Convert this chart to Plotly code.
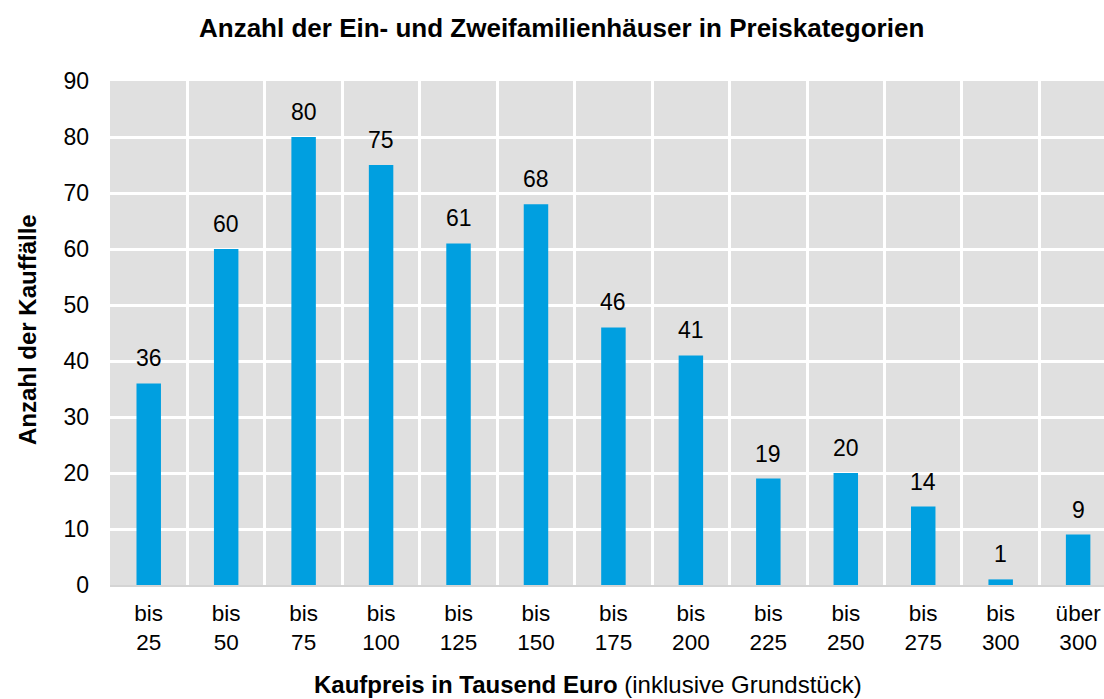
import plotly.graph_objects as go

categories = ["bis<br>25", "bis<br>50", "bis<br>75", "bis<br>100", "bis<br>125", "bis<br>150",
              "bis<br>175", "bis<br>200", "bis<br>225", "bis<br>250", "bis<br>275", "bis<br>300",
              "über<br>300"]
values = [36, 60, 80, 75, 61, 68, 46, 41, 19, 20, 14, 1, 9]
y_ticks = [0, 10, 20, 30, 40, 50, 60, 70, 80, 90]

FONT = "Liberation Sans, Arial, sans-serif"
BAR = "#009FE0"
BG = "#E0E0E0"

xpos = list(range(len(categories)))

fig = go.Figure()
fig.add_trace(go.Bar(x=xpos, y=values, width=0.316, marker=dict(color=BAR, line=dict(width=0)),
                     hoverinfo="skip"))

for x, v in zip(xpos, values):
    fig.add_annotation(x=x, y=v, text=str(v), showarrow=False, yanchor="bottom", yshift=10,
                       font=dict(family=FONT, size=23, color="#000000"))

fig.add_annotation(text="<b>Anzahl der Ein- und Zweifamilienhäuser in Preiskategorien</b>",
                   xref="paper", yref="paper", x=(561 - 110) / 994, y=1, yshift=53,
                   xanchor="center", yanchor="middle", showarrow=False,
                   font=dict(family=FONT, size=26, color="#000000"))
fig.add_annotation(text="<b>Anzahl der Kauffälle</b>", textangle=-90,
                   xref="paper", yref="paper", x=(27 - 110) / 994, y=(585 - 330) / 504,
                   xanchor="center", yanchor="middle", showarrow=False,
                   font=dict(family=FONT, size=24, color="#000000"))
fig.add_annotation(text="<b>Kaufpreis in Tausend Euro</b> (inklusive Grundstück)",
                   xref="paper", yref="paper", x=(588 - 110) / 994, y=0, yshift=-99,
                   xanchor="center", yanchor="middle", showarrow=False,
                   font=dict(family=FONT, size=24, color="#000000"))

fig.update_layout(
    width=1104, height=699,
    margin=dict(l=110, r=0, t=81, b=114, pad=0),
    paper_bgcolor="white", plot_bgcolor=BG,
    showlegend=False,
    font=dict(family=FONT, size=23, color="#000000"),
    xaxis=dict(range=[-0.5, 12.334], tickmode="array", tickvals=xpos, ticktext=categories,
               showgrid=False, zeroline=False, showline=True, linecolor="#D4D4D4", linewidth=2,
               ticks="", ticklabelstandoff=7, fixedrange=True,
               tickfont=dict(family=FONT, size=22.5, color="#000000"),
               minor=dict(tickmode="array", tickvals=[i + 0.5 for i in xpos],
                          showgrid=True, gridcolor="white", gridwidth=3, ticks="")),
    yaxis=dict(range=[0, 90], tickmode="array", tickvals=y_ticks,
               showgrid=True, gridcolor="white", gridwidth=3, zeroline=False,
               ticks="", ticklabelstandoff=20, fixedrange=True,
               tickfont=dict(family=FONT, size=23, color="#000000")),
)

fig.write_html("out.html", config={"displayModeBar": False},
               post_script="document.body.style.margin='0';document.body.style.overflow='hidden';")
